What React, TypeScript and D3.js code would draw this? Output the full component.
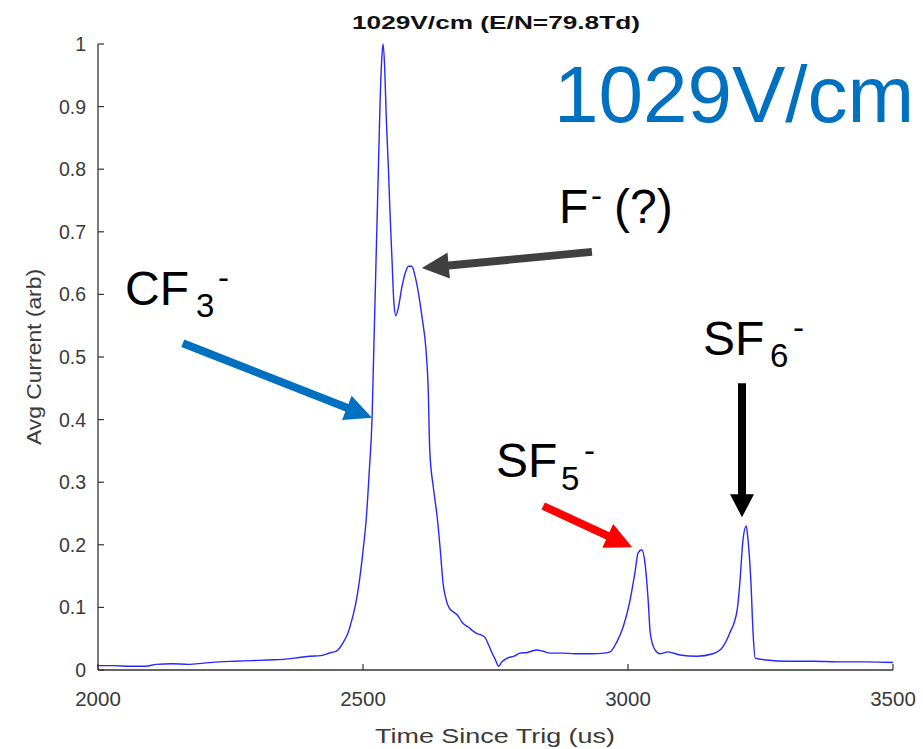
import React from "react";
import * as d3 from "d3";

// Time since trigger (us)
const times = [2000,2030,2060,2090,2110,2140,2170,2200,2230,2260,2290,2320,2350,2380,2400,2420,2440,2450,2462,2472,2479,2486,2492,2500,2506,2512,2517,2520,2523,2526,2529,2532,2535,2538,2541,2544,2548,2551,2555,2558,2562,2567,2573,2580,2586,2592,2598,2606,2612,2619,2623,2626,2633,2640,2646,2651,2657,2662,2670,2678,2688,2698,2708,2715,2723,2730,2737,2742,2750,2756,2762,2772,2785,2796,2810,2828,2840,2853,2875,2900,2930,2955,2966,2979,2991,3004,3013,3019,3026,3032,3038,3042,3051,3060,3075,3098,3130,3160,3179,3192,3206,3211,3217,3223,3226,3232,3236,3240,3262,3300,3350,3400,3450,3500];
// Avg current (arb)
const current = [0.007,0.007,0.006,0.006,0.009,0.010,0.009,0.011,0.013,0.014,0.015,0.016,0.017,0.020,0.022,0.023,0.028,0.030,0.043,0.060,0.080,0.105,0.135,0.190,0.240,0.320,0.400,0.500,0.600,0.700,0.800,0.900,0.970,1.000,0.960,0.880,0.800,0.730,0.650,0.590,0.566,0.580,0.610,0.635,0.645,0.645,0.630,0.595,0.560,0.510,0.450,0.350,0.290,0.244,0.190,0.139,0.112,0.100,0.093,0.088,0.075,0.069,0.062,0.058,0.056,0.052,0.040,0.030,0.016,0.006,0.013,0.019,0.022,0.027,0.028,0.032,0.030,0.027,0.027,0.026,0.026,0.027,0.029,0.045,0.069,0.112,0.155,0.187,0.192,0.171,0.112,0.059,0.032,0.026,0.029,0.024,0.022,0.026,0.037,0.059,0.096,0.139,0.208,0.230,0.212,0.139,0.059,0.019,0.016,0.014,0.014,0.013,0.013,0.012];

const xTicks = [2000, 2500, 3000, 3500];
const yTicks = [0, 0.1, 0.2, 0.3, 0.4, 0.5, 0.6, 0.7, 0.8, 0.9, 1];

const title = "1029V/cm (E/N=79.8Td)";
const xLabel = "Time Since Trig (us)";
const yLabel = "Avg Current (arb)";
const bigLabel = "1029V/cm";

// Arrow annotations in data coordinates: [t, v]
const arrowNames = ["CF3", "F", "SF5", "SF6"];
const arrowTail = [[2160, 0.522], [2932, 0.668], [2840, 0.262], [3215, 0.458]];
const arrowTip = [[2517, 0.403], [2611, 0.642], [3008, 0.196], [3215, 0.244]];
const arrowColor = ["#0070C0", "#404040", "#FF0000", "#000000"];

export default function App() {
  const W = 923, H = 749;
  const x = d3.scaleLinear().domain([2000, 3500]).range([98, 893]);
  const y = d3.scaleLinear().domain([0, 1]).range([670, 44]);
  const pts: [number, number][] = times.map((t, i) => [t, current[i]]);
  const line = d3.line<[number, number]>().x(d => x(d[0])).y(d => y(d[1])).curve(d3.curveMonotoneX);

  const arrowPath = (x1: number, y1: number, x2: number, y2: number, w: number, hl: number, hw: number) => {
    const dx = x2 - x1, dy = y2 - y1;
    const L = Math.hypot(dx, dy);
    const ux = dx / L, uy = dy / L;
    const nx = -uy, ny = ux;
    const bx = x2 - ux * hl, by = y2 - uy * hl;
    const p = [
      [x1 + nx * w / 2, y1 + ny * w / 2],
      [bx + nx * w / 2, by + ny * w / 2],
      [bx + nx * hw / 2, by + ny * hw / 2],
      [x2, y2],
      [bx - nx * hw / 2, by - ny * hw / 2],
      [bx - nx * w / 2, by - ny * w / 2],
      [x1 - nx * w / 2, y1 - ny * w / 2],
    ];
    return "M" + p.map(q => q[0].toFixed(1) + "," + q[1].toFixed(1)).join("L") + "Z";
  };

  const mFont = "'Liberation Sans', Arial, Helvetica, sans-serif";
  const axisColor = "#333";

  return (
    <svg width={W} height={H} style={{ position: "absolute", left: 0, top: 0, background: "#fff" }}
      fontFamily={mFont}>
      <rect x={0} y={0} width={W} height={H} fill="#fff" />
      {/* title */}
      <text x={496} y={29} textAnchor="middle" fontWeight="bold" fontSize={19} fill="#111"
        textLength={288} lengthAdjust="spacingAndGlyphs">{title}</text>

      {/* axes */}
      <line x1={x(2000)} x2={x(2000)} y1={y(1)} y2={y(0)} stroke={axisColor} strokeWidth={1.3} />
      <line x1={x(2000)} x2={x(3500)} y1={y(0)} y2={y(0)} stroke={axisColor} strokeWidth={1.3} />
      {yTicks.map(t => (
        <g key={"y" + t}>
          <line x1={x(2000)} x2={x(2000) + 6} y1={y(t)} y2={y(t)} stroke={axisColor} strokeWidth={1.2} />
          <text x={86} y={y(t) + 7} textAnchor="end" fontSize={19.5} fill="#3a3a3a">{String(+t.toFixed(1))}</text>
        </g>
      ))}
      {xTicks.map(t => (
        <g key={"x" + t}>
          <line x1={x(t)} x2={x(t)} y1={y(0)} y2={y(0) - 6} stroke={axisColor} strokeWidth={1.2} />
          <text x={x(t)} y={706} textAnchor="middle" fontSize={20.5} fill="#3a3a3a">{t}</text>
        </g>
      ))}
      <text x={495} y={743} textAnchor="middle" fontSize={21} fill="#3a3a3a"
        textLength={240} lengthAdjust="spacingAndGlyphs">{xLabel}</text>
      <text transform={`translate(41,357) rotate(-90)`} textAnchor="middle" fontSize={20} fill="#3a3a3a"
        textLength={176} lengthAdjust="spacingAndGlyphs">{yLabel}</text>

      {/* data */}
      <path d={line(pts) || ""} fill="none" stroke="#0000FF" strokeWidth={1.4} strokeOpacity={0.85} />

      {/* arrows */}
      {arrowNames.map((n, i) => (
        <path key={n} d={arrowPath(x(arrowTail[i][0]), y(arrowTail[i][1]), x(arrowTip[i][0]), y(arrowTip[i][1]), 8, n === "SF6" ? 23 : 27, n === "SF6" ? 24 : 26)}
          fill={arrowColor[i]} />
      ))}

      {/* annotation labels */}
      <text x={554} y={122} fontSize={80} fill="#0070C0">{bigLabel}</text>

      <text x={125} y={305} fontSize={48} fill="#000">CF</text>
      <text x={196} y={317} fontSize={33} fill="#000">3</text>
      <text x={218} y={289} fontSize={33} fill="#000">-</text>

      <text x={559} y={223} fontSize={48} fill="#000">F</text>
      <text x={591} y={207} fontSize={33} fill="#000">-</text>
      <text x={614} y={223} fontSize={48} fill="#000">(?)</text>

      <text x={496} y={477} fontSize={48} fill="#000">SF</text>
      <text x={561} y={490} fontSize={33} fill="#000">5</text>
      <text x={584} y={462} fontSize={33} fill="#000">-</text>

      <text x={703} y={355} fontSize={48} fill="#000">SF</text>
      <text x={770} y={367} fontSize={33} fill="#000">6</text>
      <text x={793} y={339} fontSize={33} fill="#000">-</text>
    </svg>
  );
}
